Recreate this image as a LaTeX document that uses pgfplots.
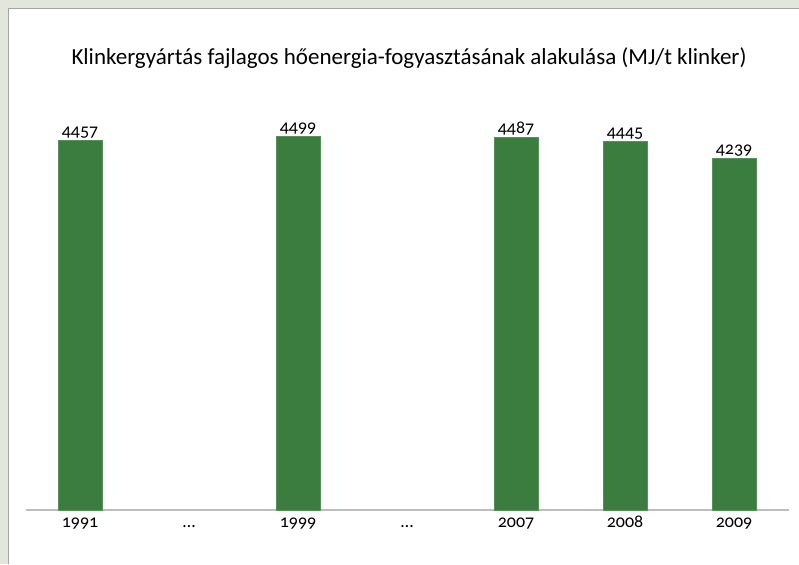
\documentclass[border=0pt]{standalone}
\usepackage{pgfplots}
\pgfplotsset{compat=1.18}
\usepackage{fontspec}
\setmainfont{Carlito}[Numbers=OldStyle]
\definecolor{bgout}{RGB}{227,230,219}
\definecolor{panelborder}{RGB}{165,165,165}
\definecolor{bargreen}{RGB}{58,125,62}
\definecolor{axisgray}{RGB}{190,190,190}
\begin{document}
\begin{tikzpicture}
\fill[bgout] (0,0) rectangle (799pt,564pt);
\fill[white] (8.5pt,0) rectangle (799pt,555.5pt);
\draw[panelborder,line width=1.5pt] (8.5pt,0) -- (8.5pt,555.5pt) -- (799pt,555.5pt);
\node[font=\fontsize{23}{27}\selectfont] at (409pt,506pt) {Klinkergyártás fajlagos hőenergia-fogyasztásának alakulása (MJ/t klinker)};
\begin{axis}[
  at={(25.5pt,54pt)}, anchor=south west,
  scale only axis,
  width=763pt, height=415pt,
  xmin=-0.5, xmax=6.5, ymin=0, ymax=5000,
  axis x line*=bottom,
  axis y line=none,
  x axis line style={axisgray,line width=1.5pt},
  xtick={0,1,2,3,4,5,6},
  xticklabels={1991,\textellipsis,1999,\textellipsis,2007,2008,2009},
  major tick length=0pt,
  xticklabel style={font=\fontsize{18}{20}\selectfont, text height=12pt, text depth=3pt, yshift=-2pt},
  /pgf/number format/assume math mode=true,
  /pgf/number format/1000 sep={},
  clip=false,
]
\addplot[ybar, bar width=44pt, fill=bargreen, draw=bargreen!85!white,
  nodes near coords={\pgfmathprintnumber[1000 sep={},assume math mode=true]{\pgfplotspointmeta}},
  nodes near coords style={font=\fontsize{18}{20}\selectfont, black, inner sep=2pt}]
  coordinates {(0,4457) (2,4499) (4,4487) (5,4445) (6,4239)};
\end{axis}
\pgfresetboundingbox
\useasboundingbox (0,0) rectangle (799pt,564pt);
\end{tikzpicture}
\end{document}
